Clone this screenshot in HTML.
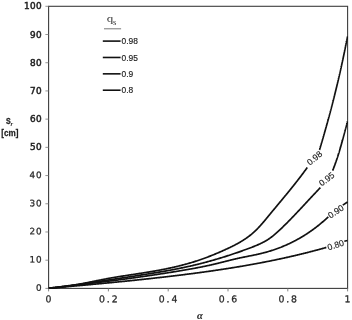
<!DOCTYPE html>
<html><head><meta charset="utf-8"><title>chart</title>
<style>html,body{margin:0;padding:0;background:#fff}svg{display:block}</style></head>
<body>
<svg width="352" height="320" viewBox="0 0 352 320">
<rect width="352" height="320" fill="#fff"/>
<rect x="48.6" y="6.3" width="299.0" height="282.09999999999997" fill="none" stroke="#3c3c3c" stroke-width="1.1"/>
<line x1="45.4" y1="288.40" x2="48.6" y2="288.40" stroke="#777" stroke-width="0.8"/>
<line x1="45.4" y1="260.19" x2="48.6" y2="260.19" stroke="#777" stroke-width="0.8"/>
<line x1="45.4" y1="231.98" x2="48.6" y2="231.98" stroke="#777" stroke-width="0.8"/>
<line x1="45.4" y1="203.77" x2="48.6" y2="203.77" stroke="#777" stroke-width="0.8"/>
<line x1="45.4" y1="175.56" x2="48.6" y2="175.56" stroke="#777" stroke-width="0.8"/>
<line x1="45.4" y1="147.35" x2="48.6" y2="147.35" stroke="#777" stroke-width="0.8"/>
<line x1="45.4" y1="119.14" x2="48.6" y2="119.14" stroke="#777" stroke-width="0.8"/>
<line x1="45.4" y1="90.93" x2="48.6" y2="90.93" stroke="#777" stroke-width="0.8"/>
<line x1="45.4" y1="62.72" x2="48.6" y2="62.72" stroke="#777" stroke-width="0.8"/>
<line x1="45.4" y1="34.51" x2="48.6" y2="34.51" stroke="#777" stroke-width="0.8"/>
<line x1="45.4" y1="6.30" x2="48.6" y2="6.30" stroke="#777" stroke-width="0.8"/>
<line x1="48.60" y1="288.4" x2="48.60" y2="291.4" stroke="#777" stroke-width="0.9"/>
<line x1="108.40" y1="288.4" x2="108.40" y2="291.4" stroke="#777" stroke-width="0.9"/>
<line x1="168.20" y1="288.4" x2="168.20" y2="291.4" stroke="#777" stroke-width="0.9"/>
<line x1="228.00" y1="288.4" x2="228.00" y2="291.4" stroke="#777" stroke-width="0.9"/>
<line x1="287.80" y1="288.4" x2="287.80" y2="291.4" stroke="#777" stroke-width="0.9"/>
<line x1="347.60" y1="288.4" x2="347.60" y2="291.4" stroke="#777" stroke-width="0.9"/>
<text transform="translate(38.9,290.80) rotate(0.2)" x="-0.00" y="0" text-anchor="middle" font-family="'DejaVu Sans',sans-serif" font-size="8.8" fill="#2a2a2a" stroke="#2a2a2a" stroke-width="0.28">0</text>
<text transform="translate(38.9,262.59) rotate(0.2)" x="-6.50 -0.00" y="0" text-anchor="middle" font-family="'DejaVu Sans',sans-serif" font-size="8.8" fill="#2a2a2a" stroke="#2a2a2a" stroke-width="0.28">10</text>
<text transform="translate(38.9,234.38) rotate(0.2)" x="-6.50 -0.00" y="0" text-anchor="middle" font-family="'DejaVu Sans',sans-serif" font-size="8.8" fill="#2a2a2a" stroke="#2a2a2a" stroke-width="0.28">20</text>
<text transform="translate(38.9,206.17) rotate(0.2)" x="-6.50 -0.00" y="0" text-anchor="middle" font-family="'DejaVu Sans',sans-serif" font-size="8.8" fill="#2a2a2a" stroke="#2a2a2a" stroke-width="0.28">30</text>
<text transform="translate(38.9,177.96) rotate(0.2)" x="-6.50 -0.00" y="0" text-anchor="middle" font-family="'DejaVu Sans',sans-serif" font-size="8.8" fill="#2a2a2a" stroke="#2a2a2a" stroke-width="0.28">40</text>
<text x="42.0" y="150.35" letter-spacing="0.35" text-anchor="end" font-family="'DejaVu Sans',sans-serif" font-size="8.9" fill="#222" stroke="#222" stroke-width="0.5">50</text>
<text x="42.0" y="122.14" letter-spacing="0.35" text-anchor="end" font-family="'DejaVu Sans',sans-serif" font-size="8.9" fill="#222" stroke="#222" stroke-width="0.5">60</text>
<text x="42.0" y="93.93" letter-spacing="0.35" text-anchor="end" font-family="'DejaVu Sans',sans-serif" font-size="8.9" fill="#222" stroke="#222" stroke-width="0.5">70</text>
<text x="42.0" y="65.72" letter-spacing="0.35" text-anchor="end" font-family="'DejaVu Sans',sans-serif" font-size="8.9" fill="#222" stroke="#222" stroke-width="0.5">80</text>
<text x="42.0" y="37.51" letter-spacing="0.35" text-anchor="end" font-family="'DejaVu Sans',sans-serif" font-size="8.9" fill="#222" stroke="#222" stroke-width="0.5">90</text>
<text x="42.0" y="9.30" letter-spacing="0.35" text-anchor="end" font-family="'DejaVu Sans',sans-serif" font-size="8.9" fill="#222" stroke="#222" stroke-width="0.5">100</text>
<text transform="translate(48.50,302.3) rotate(0.2)" x="0.00" y="0" text-anchor="middle" font-family="'DejaVu Sans',sans-serif" font-size="9.3" fill="#2a2a2a" stroke="#2a2a2a" stroke-width="0.3">0</text>
<text transform="translate(108.30,302.3) rotate(0.2)" x="-6.30 0.00 6.30" y="0" text-anchor="middle" font-family="'DejaVu Sans',sans-serif" font-size="9.3" fill="#2a2a2a" stroke="#2a2a2a" stroke-width="0.3">0.2</text>
<text transform="translate(168.10,302.3) rotate(0.2)" x="-6.30 0.00 6.30" y="0" text-anchor="middle" font-family="'DejaVu Sans',sans-serif" font-size="9.3" fill="#2a2a2a" stroke="#2a2a2a" stroke-width="0.3">0.4</text>
<text transform="translate(227.90,302.3) rotate(0.2)" x="-6.30 0.00 6.30" y="0" text-anchor="middle" font-family="'DejaVu Sans',sans-serif" font-size="9.3" fill="#2a2a2a" stroke="#2a2a2a" stroke-width="0.3">0.6</text>
<text transform="translate(287.70,302.3) rotate(0.2)" x="-6.30 0.00 6.30" y="0" text-anchor="middle" font-family="'DejaVu Sans',sans-serif" font-size="9.3" fill="#2a2a2a" stroke="#2a2a2a" stroke-width="0.3">0.8</text>
<text transform="translate(347.50,302.3) rotate(0.2)" x="0.00" y="0" text-anchor="middle" font-family="'DejaVu Sans',sans-serif" font-size="9.3" fill="#2a2a2a" stroke="#2a2a2a" stroke-width="0.3">1</text>
<clipPath id="pc"><rect x="48.6" y="6.3" width="299.50" height="282.60"/></clipPath>
<g clip-path="url(#pc)">
<path d="M48.64,288.17 L49.40,288.13 L50.15,288.09 L50.90,288.04 L51.65,287.99 L52.40,287.94 L53.15,287.88 L53.90,287.82 L54.65,287.76 L55.40,287.69 L56.15,287.62 L56.90,287.55 L57.64,287.47 L58.39,287.39 L59.13,287.31 L59.88,287.23 L60.63,287.14 L61.37,287.05 L62.11,286.95 L62.86,286.86 L63.60,286.76 L64.34,286.66 L65.08,286.56 L65.83,286.45 L66.57,286.34 L67.31,286.23 L68.05,286.12 L68.79,286.00 L69.53,285.89 L70.27,285.77 L71.01,285.65 L71.75,285.53 L72.49,285.40 L73.22,285.27 L73.96,285.15 L74.70,285.02 L75.44,284.89 L76.18,284.75 L76.91,284.62 L77.65,284.48 L78.39,284.35 L79.12,284.21 L79.86,284.07 L80.59,283.93 L81.33,283.79 L82.07,283.65 L82.80,283.51 L83.54,283.36 L84.27,283.22 L85.01,283.07 L85.74,282.93 L86.48,282.78 L87.21,282.63 L87.95,282.48 L88.68,282.34 L89.42,282.19 L90.15,282.04 L90.89,281.89 L91.62,281.74 L92.35,281.59 L93.09,281.44 L93.82,281.29 L94.56,281.14 L95.29,281.00 L96.03,280.85 L96.76,280.70 L97.50,280.55 L98.23,280.40 L98.97,280.26 L99.70,280.11 L100.44,279.96 L101.17,279.82 L101.91,279.67 L102.64,279.53 L103.38,279.39 L104.12,279.25 L104.85,279.11 L105.59,278.97 L106.32,278.83 L107.06,278.69 L107.80,278.55 L108.54,278.42 L109.27,278.29 L110.01,278.15 L110.75,278.02 L111.49,277.89 L112.22,277.76 L112.96,277.64 L113.70,277.51 L114.44,277.39 L115.18,277.26 L115.92,277.14 L116.66,277.01 L117.40,276.89 L118.14,276.77 L118.88,276.65 L119.62,276.53 L120.36,276.41 L121.10,276.30 L121.84,276.18 L122.58,276.06 L123.32,275.95 L124.06,275.83 L124.80,275.72 L125.54,275.60 L126.28,275.49 L127.02,275.37 L127.77,275.26 L128.51,275.15 L129.25,275.03 L129.99,274.92 L130.73,274.81 L131.47,274.69 L132.21,274.58 L132.95,274.47 L133.70,274.36 L134.44,274.24 L135.18,274.13 L135.92,274.02 L136.66,273.90 L137.40,273.79 L138.14,273.68 L138.89,273.56 L139.63,273.45 L140.37,273.34 L141.11,273.22 L141.85,273.11 L142.59,272.99 L143.33,272.87 L144.07,272.76 L144.81,272.64 L145.55,272.52 L146.29,272.40 L147.03,272.28 L147.77,272.16 L148.51,272.04 L149.25,271.92 L149.99,271.80 L150.73,271.67 L151.47,271.55 L152.21,271.42 L152.95,271.29 L153.69,271.17 L154.43,271.04 L155.17,270.91 L155.91,270.78 L156.65,270.64 L157.38,270.51 L158.12,270.38 L158.86,270.24 L159.60,270.10 L160.33,269.97 L161.07,269.83 L161.81,269.69 L162.54,269.54 L163.28,269.40 L164.01,269.26 L164.75,269.11 L165.48,268.96 L166.22,268.81 L166.95,268.66 L167.69,268.51 L168.42,268.36 L169.15,268.20 L169.89,268.05 L170.62,267.89 L171.35,267.73 L172.08,267.57 L172.81,267.40 L173.54,267.24 L174.27,267.07 L175.00,266.90 L175.73,266.73 L176.46,266.56 L177.19,266.39 L177.92,266.21 L178.64,266.04 L179.37,265.86 L180.10,265.68 L180.82,265.49 L181.55,265.31 L182.27,265.12 L183.00,264.93 L183.72,264.74 L184.44,264.55 L185.17,264.36 L185.89,264.16 L186.61,263.96 L187.33,263.76 L188.05,263.55 L188.77,263.35 L189.49,263.14 L190.21,262.93 L190.93,262.72 L191.64,262.50 L192.36,262.29 L193.07,262.07 L193.79,261.85 L194.50,261.62 L195.22,261.40 L195.93,261.17 L196.64,260.94 L197.35,260.70 L198.06,260.47 L198.77,260.23 L199.48,259.99 L200.19,259.75 L200.90,259.50 L201.61,259.25 L202.31,259.01 L203.02,258.75 L203.73,258.50 L204.43,258.24 L205.14,257.99 L205.84,257.73 L206.54,257.46 L207.24,257.20 L207.94,256.93 L208.65,256.66 L209.35,256.39 L210.05,256.12 L210.74,255.85 L211.44,255.57 L212.14,255.29 L212.84,255.01 L213.53,254.73 L214.23,254.44 L214.92,254.16 L215.62,253.87 L216.31,253.58 L217.00,253.29 L217.70,252.99 L218.39,252.70 L219.08,252.40 L219.77,252.10 L220.46,251.80 L221.15,251.50 L221.84,251.19 L222.52,250.89 L223.21,250.58 L223.90,250.27 L224.58,249.96 L225.27,249.64 L225.95,249.33 L226.64,249.01 L227.32,248.69 L228.00,248.37 L228.69,248.05 L229.37,247.73 L230.05,247.40 L230.72,247.07 L231.40,246.74 L232.08,246.41 L232.75,246.07 L233.42,245.73 L234.09,245.39 L234.76,245.04 L235.43,244.70 L236.09,244.34 L236.76,243.99 L237.42,243.63 L238.07,243.27 L238.73,242.90 L239.38,242.53 L240.03,242.16 L240.67,241.78 L241.31,241.39 L241.95,241.01 L242.59,240.62 L243.22,240.22 L243.85,239.82 L244.48,239.41 L245.10,239.00 L245.71,238.58 L246.33,238.16 L246.94,237.73 L247.54,237.30 L248.14,236.86 L248.74,236.41 L249.33,235.96 L249.91,235.50 L250.50,235.04 L251.07,234.57 L251.65,234.10 L252.21,233.62 L252.78,233.13 L253.33,232.64 L253.89,232.14 L254.44,231.64 L254.98,231.13 L255.52,230.62 L256.06,230.10 L256.59,229.58 L257.12,229.05 L257.64,228.51 L258.16,227.98 L258.68,227.44 L259.19,226.89 L259.70,226.34 L260.20,225.79 L260.70,225.23 L261.20,224.67 L261.70,224.11 L262.19,223.54 L262.68,222.97 L263.17,222.40 L263.66,221.83 L264.14,221.25 L264.63,220.68 L265.11,220.10 L265.59,219.52 L266.07,218.94 L266.55,218.36 L267.03,217.78 L267.50,217.20 L267.98,216.62 L268.46,216.03 L268.94,215.45 L269.42,214.87 L269.90,214.29 L270.37,213.71 L270.85,213.13 L271.33,212.55 L271.81,211.98 L272.29,211.40 L272.77,210.82 L273.25,210.24 L273.73,209.66 L274.21,209.09 L274.69,208.51 L275.17,207.93 L275.65,207.35 L276.13,206.78 L276.61,206.20 L277.09,205.62 L277.57,205.05 L278.05,204.47 L278.53,203.90 L279.00,203.32 L279.48,202.74 L279.96,202.17 L280.44,201.59 L280.92,201.01 L281.40,200.44 L281.88,199.86 L282.35,199.29 L282.83,198.71 L283.31,198.13 L283.79,197.56 L284.26,196.98 L284.74,196.40 L285.21,195.82 L285.69,195.25 L286.17,194.67 L286.64,194.09 L287.11,193.51 L287.59,192.93 L288.06,192.35 L288.54,191.77 L289.01,191.19 L289.48,190.61 L289.95,190.03 L290.42,189.45 L290.89,188.87 L291.36,188.29 L291.83,187.70 L292.30,187.12 L292.77,186.54 L293.24,185.95 L293.70,185.37 L294.17,184.78 L294.63,184.20 L295.10,183.61 L295.56,183.02 L296.02,182.43 L296.49,181.84 L296.95,181.25 L297.41,180.66 L297.87,180.07 L298.33,179.48 L298.79,178.89 L299.24,178.30 L299.70,177.70 L300.16,177.11 L300.61,176.51 L301.06,175.91 L301.52,175.31 L301.97,174.72 L302.42,174.12 L302.87,173.52 L303.32,172.91 L303.76,172.31 L304.21,171.71 L304.66,171.10 L305.10,170.50 L305.54,169.89 L305.98,169.28 L306.43,168.67 L306.87,168.06 L307.30,167.45" fill="none" stroke="#111" stroke-width="1.7" stroke-linecap="butt" stroke-linejoin="round"/>
<path d="M319.45,150.04 L319.54,149.76 L319.62,149.47 L319.71,149.19 L319.79,148.91 L319.88,148.63 L319.96,148.35 L320.04,148.07 L320.13,147.79 L320.21,147.51 L320.30,147.22 L320.38,146.94 L320.46,146.66 L320.55,146.38 L320.63,146.10 L320.72,145.82 L320.80,145.54 L320.88,145.25 L320.97,144.97 L321.05,144.69 L321.13,144.41 L321.22,144.13 L321.30,143.85 L321.38,143.56 L321.47,143.28 L321.55,143.00 L321.63,142.72 L321.72,142.44 L321.80,142.16 L321.88,141.87 L321.96,141.59 L322.05,141.31 L322.13,141.03 L322.21,140.75 L322.29,140.47 L322.38,140.18 L322.46,139.90 L322.54,139.62 L322.62,139.34 L322.71,139.06 L322.79,138.77 L322.87,138.49 L322.95,138.21 L323.03,137.93 L323.12,137.65 L323.20,137.36 L323.28,137.08 L323.36,136.80 L323.44,136.52 L323.52,136.24 L323.61,135.95 L323.69,135.67 L323.77,135.39 L323.85,135.11 L323.93,134.82 L324.01,134.54 L324.09,134.26 L324.17,133.98 L324.25,133.70 L324.34,133.41 L324.42,133.13 L324.50,132.85 L324.58,132.57 L324.66,132.28 L324.74,132.00 L324.82,131.72 L324.90,131.44 L324.98,131.15 L325.06,130.87 L325.14,130.59 L325.22,130.31 L325.30,130.02 L325.38,129.74 L325.46,129.46 L325.54,129.18 L325.62,128.89 L325.70,128.61 L325.78,128.33 L325.86,128.05 L325.94,127.76 L326.02,127.48 L326.10,127.20 L326.18,126.92 L326.26,126.63 L326.33,126.35 L326.41,126.07 L326.49,125.78 L326.57,125.50 L326.65,125.22 L326.73,124.94 L326.81,124.65 L326.89,124.37 L326.96,124.09 L327.04,123.80 L327.12,123.52 L327.20,123.24 L327.28,122.96 L327.36,122.67 L327.44,122.39 L327.51,122.11 L327.59,121.82 L327.67,121.54 L327.75,121.26 L327.82,120.97 L327.90,120.69 L327.98,120.41 L328.06,120.12 L328.14,119.84 L328.21,119.56 L328.29,119.28 L328.37,118.99 L328.44,118.71 L328.52,118.43 L328.60,118.14 L328.68,117.86 L328.75,117.58 L328.83,117.29 L328.91,117.01 L328.98,116.73 L329.06,116.44 L329.14,116.16 L329.21,115.88 L329.29,115.59 L329.37,115.31 L329.44,115.02 L329.52,114.74 L329.60,114.46 L329.67,114.17 L329.75,113.89 L329.82,113.61 L329.90,113.32 L329.98,113.04 L330.05,112.76 L330.13,112.47 L330.20,112.19 L330.28,111.91 L330.35,111.62 L330.43,111.34 L330.50,111.05 L330.58,110.77 L330.65,110.49 L330.73,110.20 L330.80,109.92 L330.88,109.63 L330.95,109.35 L331.03,109.07 L331.10,108.78 L331.18,108.50 L331.25,108.22 L331.33,107.93 L331.40,107.65 L331.48,107.36 L331.55,107.08 L331.63,106.80 L331.70,106.51 L331.77,106.23 L331.85,105.94 L331.92,105.66 L332.00,105.37 L332.07,105.09 L332.14,104.81 L332.22,104.52 L332.29,104.24 L332.36,103.95 L332.44,103.67 L332.51,103.39 L332.58,103.10 L332.66,102.82 L332.73,102.53 L332.80,102.25 L332.88,101.96 L332.95,101.68 L333.02,101.39 L333.09,101.11 L333.17,100.83 L333.24,100.54 L333.31,100.26 L333.39,99.97 L333.46,99.69 L333.53,99.40 L333.60,99.12 L333.67,98.83 L333.75,98.55 L333.82,98.27 L333.89,97.98 L333.96,97.70 L334.03,97.41 L334.11,97.13 L334.18,96.84 L334.25,96.56 L334.32,96.27 L334.39,95.99 L334.46,95.70 L334.53,95.42 L334.61,95.13 L334.68,94.85 L334.75,94.56 L334.82,94.28 L334.89,93.99 L334.96,93.71 L335.03,93.42 L335.10,93.14 L335.17,92.85 L335.24,92.57 L335.31,92.28 L335.38,92.00 L335.45,91.71 L335.52,91.43 L335.59,91.14 L335.66,90.86 L335.73,90.57 L335.80,90.29 L335.87,90.00 L335.94,89.72 L336.01,89.43 L336.08,89.15 L336.15,88.86 L336.22,88.58 L336.29,88.29 L336.36,88.01 L336.43,87.72 L336.50,87.44 L336.57,87.15 L336.64,86.87 L336.70,86.58 L336.77,86.29 L336.84,86.01 L336.91,85.72 L336.98,85.44 L337.05,85.15 L337.12,84.87 L337.18,84.58 L337.25,84.30 L337.32,84.01 L337.39,83.73 L337.46,83.44 L337.52,83.15 L337.59,82.87 L337.66,82.58 L337.73,82.30 L337.80,82.01 L337.86,81.73 L337.93,81.44 L338.00,81.15 L338.07,80.87 L338.13,80.58 L338.20,80.30 L338.27,80.01 L338.33,79.73 L338.40,79.44 L338.47,79.15 L338.53,78.87 L338.60,78.58 L338.67,78.30 L338.73,78.01 L338.80,77.72 L338.87,77.44 L338.93,77.15 L339.00,76.87 L339.06,76.58 L339.13,76.29 L339.20,76.01 L339.26,75.72 L339.33,75.44 L339.39,75.15 L339.46,74.86 L339.52,74.58 L339.59,74.29 L339.66,74.00 L339.72,73.72 L339.79,73.43 L339.85,73.15 L339.92,72.86 L339.98,72.57 L340.05,72.29 L340.11,72.00 L340.18,71.71 L340.24,71.43 L340.30,71.14 L340.37,70.86 L340.43,70.57 L340.50,70.28 L340.56,70.00 L340.63,69.71 L340.69,69.42 L340.75,69.14 L340.82,68.85 L340.88,68.56 L340.94,68.28 L341.01,67.99 L341.07,67.70 L341.14,67.42 L341.20,67.13 L341.26,66.84 L341.33,66.56 L341.39,66.27 L341.45,65.98 L341.51,65.70 L341.58,65.41 L341.64,65.12 L341.70,64.84 L341.77,64.55 L341.83,64.26 L341.89,63.98 L341.95,63.69 L342.01,63.40 L342.08,63.11 L342.14,62.83 L342.20,62.54 L342.26,62.25 L342.32,61.97 L342.39,61.68 L342.45,61.39 L342.51,61.11 L342.57,60.82 L342.63,60.53 L342.69,60.24 L342.76,59.96 L342.82,59.67 L342.88,59.38 L342.94,59.10 L343.00,58.81 L343.06,58.52 L343.12,58.23 L343.18,57.95 L343.24,57.66 L343.30,57.37 L343.36,57.08 L343.42,56.80 L343.48,56.51 L343.54,56.22 L343.60,55.93 L343.66,55.65 L343.72,55.36 L343.78,55.07 L343.84,54.78 L343.90,54.50 L343.96,54.21 L344.02,53.92 L344.08,53.63 L344.14,53.35 L344.20,53.06 L344.26,52.77 L344.32,52.48 L344.38,52.20 L344.44,51.91 L344.49,51.62 L344.55,51.33 L344.61,51.05 L344.67,50.76 L344.73,50.47 L344.79,50.18 L344.85,49.89 L344.90,49.61 L344.96,49.32 L345.02,49.03 L345.08,48.74 L345.14,48.45 L345.19,48.17 L345.25,47.88 L345.31,47.59 L345.37,47.30 L345.42,47.02 L345.48,46.73 L345.54,46.44 L345.59,46.15 L345.65,45.86 L345.71,45.57 L345.77,45.29 L345.82,45.00 L345.88,44.71 L345.94,44.42 L345.99,44.13 L346.05,43.85 L346.10,43.56 L346.16,43.27 L346.22,42.98 L346.27,42.69 L346.33,42.40 L346.38,42.12 L346.44,41.83 L346.50,41.54 L346.55,41.25 L346.61,40.96 L346.66,40.67 L346.72,40.39 L346.77,40.10 L346.83,39.81 L346.88,39.52 L346.94,39.23 L346.99,38.94 L347.05,38.65 L347.10,38.37 L347.16,38.08 L347.21,37.79 L347.27,37.50 L347.32,37.21 L347.37,36.92 L347.43,36.63 L347.48,36.34" fill="none" stroke="#111" stroke-width="1.7" stroke-linecap="butt" stroke-linejoin="round"/>
<path d="M48.65,288.20 L49.40,288.11 L50.14,288.03 L50.89,287.94 L51.63,287.85 L52.38,287.76 L53.13,287.67 L53.87,287.58 L54.62,287.49 L55.36,287.40 L56.11,287.31 L56.85,287.22 L57.60,287.12 L58.34,287.03 L59.09,286.94 L59.83,286.84 L60.58,286.75 L61.32,286.65 L62.07,286.56 L62.81,286.46 L63.56,286.37 L64.30,286.27 L65.05,286.18 L65.79,286.08 L66.54,285.98 L67.28,285.88 L68.03,285.79 L68.77,285.69 L69.52,285.59 L70.26,285.49 L71.01,285.39 L71.75,285.29 L72.49,285.19 L73.24,285.09 L73.98,284.99 L74.73,284.89 L75.47,284.79 L76.21,284.69 L76.96,284.58 L77.70,284.48 L78.45,284.38 L79.19,284.28 L79.93,284.17 L80.68,284.07 L81.42,283.97 L82.16,283.86 L82.91,283.76 L83.65,283.65 L84.39,283.55 L85.14,283.44 L85.88,283.34 L86.62,283.23 L87.37,283.12 L88.11,283.02 L88.85,282.91 L89.60,282.80 L90.34,282.70 L91.08,282.59 L91.83,282.48 L92.57,282.37 L93.31,282.27 L94.06,282.16 L94.80,282.05 L95.54,281.94 L96.29,281.83 L97.03,281.72 L97.77,281.61 L98.51,281.50 L99.26,281.39 L100.00,281.28 L100.74,281.17 L101.49,281.06 L102.23,280.95 L102.97,280.84 L103.71,280.73 L104.46,280.62 L105.20,280.51 L105.94,280.40 L106.68,280.29 L107.43,280.18 L108.17,280.07 L108.91,279.95 L109.66,279.84 L110.40,279.73 L111.14,279.62 L111.88,279.51 L112.63,279.39 L113.37,279.28 L114.11,279.17 L114.85,279.06 L115.60,278.94 L116.34,278.83 L117.08,278.72 L117.82,278.60 L118.57,278.49 L119.31,278.38 L120.05,278.27 L120.79,278.15 L121.54,278.04 L122.28,277.93 L123.02,277.81 L123.76,277.70 L124.51,277.59 L125.25,277.47 L125.99,277.36 L126.73,277.24 L127.48,277.13 L128.22,277.02 L128.96,276.90 L129.70,276.79 L130.45,276.68 L131.19,276.56 L131.93,276.45 L132.68,276.34 L133.42,276.22 L134.16,276.11 L134.90,275.99 L135.65,275.88 L136.39,275.77 L137.13,275.65 L137.87,275.54 L138.62,275.42 L139.36,275.31 L140.10,275.19 L140.84,275.08 L141.59,274.96 L142.33,274.85 L143.07,274.73 L143.81,274.61 L144.55,274.50 L145.30,274.38 L146.04,274.26 L146.78,274.15 L147.52,274.03 L148.26,273.91 L149.01,273.79 L149.75,273.67 L150.49,273.55 L151.23,273.43 L151.97,273.31 L152.71,273.19 L153.45,273.07 L154.20,272.95 L154.94,272.83 L155.68,272.70 L156.42,272.58 L157.16,272.46 L157.90,272.33 L158.64,272.21 L159.38,272.08 L160.12,271.95 L160.86,271.83 L161.60,271.70 L162.34,271.57 L163.08,271.44 L163.82,271.31 L164.56,271.18 L165.30,271.05 L166.04,270.92 L166.78,270.79 L167.51,270.65 L168.25,270.52 L168.99,270.39 L169.73,270.25 L170.47,270.11 L171.20,269.98 L171.94,269.84 L172.68,269.70 L173.42,269.56 L174.15,269.42 L174.89,269.27 L175.63,269.13 L176.36,268.99 L177.10,268.84 L177.84,268.70 L178.57,268.55 L179.31,268.40 L180.04,268.25 L180.78,268.10 L181.51,267.95 L182.25,267.80 L182.98,267.65 L183.71,267.49 L184.45,267.34 L185.18,267.18 L185.92,267.02 L186.65,266.86 L187.38,266.70 L188.11,266.54 L188.85,266.38 L189.58,266.22 L190.31,266.05 L191.04,265.88 L191.77,265.72 L192.50,265.55 L193.23,265.38 L193.96,265.20 L194.69,265.03 L195.42,264.86 L196.15,264.68 L196.88,264.50 L197.61,264.33 L198.34,264.15 L199.07,263.97 L199.80,263.78 L200.52,263.60 L201.25,263.41 L201.98,263.23 L202.70,263.04 L203.43,262.85 L204.16,262.66 L204.88,262.47 L205.61,262.28 L206.33,262.08 L207.06,261.89 L207.78,261.69 L208.51,261.49 L209.23,261.29 L209.95,261.09 L210.68,260.89 L211.40,260.69 L212.12,260.48 L212.84,260.28 L213.57,260.07 L214.29,259.86 L215.01,259.65 L215.73,259.44 L216.45,259.23 L217.17,259.02 L217.89,258.80 L218.61,258.59 L219.33,258.37 L220.05,258.15 L220.77,257.94 L221.49,257.72 L222.21,257.49 L222.92,257.27 L223.64,257.05 L224.36,256.82 L225.08,256.60 L225.79,256.37 L226.51,256.14 L227.23,255.91 L227.94,255.68 L228.66,255.45 L229.37,255.22 L230.09,254.98 L230.80,254.75 L231.51,254.51 L232.23,254.27 L232.94,254.03 L233.65,253.79 L234.37,253.55 L235.08,253.31 L235.79,253.07 L236.50,252.82 L237.21,252.58 L237.93,252.33 L238.64,252.08 L239.35,251.83 L240.06,251.58 L240.77,251.33 L241.48,251.08 L242.18,250.83 L242.89,250.57 L243.60,250.32 L244.31,250.06 L245.02,249.80 L245.72,249.54 L246.43,249.29 L247.14,249.02 L247.84,248.76 L248.55,248.50 L249.26,248.24 L249.96,247.97 L250.67,247.71 L251.37,247.44 L252.07,247.17 L252.77,246.89 L253.48,246.62 L254.17,246.34 L254.87,246.06 L255.57,245.78 L256.26,245.49 L256.95,245.20 L257.64,244.90 L258.33,244.60 L259.01,244.30 L259.69,243.99 L260.37,243.67 L261.04,243.35 L261.71,243.02 L262.38,242.69 L263.04,242.35 L263.70,242.00 L264.36,241.65 L265.01,241.29 L265.66,240.92 L266.30,240.54 L266.93,240.16 L267.57,239.77 L268.19,239.37 L268.81,238.96 L269.43,238.54 L270.04,238.11 L270.64,237.68 L271.24,237.23 L271.84,236.78 L272.43,236.32 L273.02,235.86 L273.60,235.39 L274.18,234.91 L274.75,234.43 L275.33,233.94 L275.89,233.45 L276.46,232.95 L277.02,232.45 L277.58,231.94 L278.14,231.43 L278.69,230.92 L279.24,230.41 L279.80,229.89 L280.34,229.37 L280.89,228.85 L281.44,228.33 L281.98,227.81 L282.52,227.28 L283.06,226.76 L283.60,226.23 L284.14,225.70 L284.68,225.18 L285.21,224.65 L285.75,224.12 L286.28,223.58 L286.81,223.05 L287.35,222.52 L287.88,221.98 L288.40,221.45 L288.93,220.91 L289.46,220.38 L289.99,219.84 L290.51,219.30 L291.04,218.76 L291.56,218.22 L292.08,217.68 L292.60,217.14 L293.12,216.60 L293.64,216.06 L294.16,215.51 L294.68,214.97 L295.20,214.43 L295.72,213.88 L296.23,213.34 L296.75,212.79 L297.27,212.24 L297.78,211.70 L298.30,211.15 L298.81,210.60 L299.32,210.06 L299.84,209.51 L300.35,208.96 L300.86,208.41 L301.38,207.86 L301.89,207.31 L302.40,206.76 L302.91,206.22 L303.42,205.67 L303.93,205.12 L304.44,204.57 L304.95,204.02 L305.47,203.47 L305.98,202.92 L306.49,202.37 L307.00,201.82 L307.51,201.27 L308.02,200.72 L308.53,200.17 L309.04,199.62 L309.55,199.07 L310.06,198.52 L310.58,197.98 L311.09,197.43 L311.60,196.88 L312.11,196.33 L312.63,195.78 L313.14,195.24 L313.65,194.69 L314.17,194.14 L314.68,193.60 L315.20,193.05 L315.71,192.51 L316.23,191.96 L316.74,191.42 L317.26,190.88 L317.78,190.34 L318.30,189.79 L318.82,189.25 L319.34,188.71 L319.86,188.17 L320.38,187.63" fill="none" stroke="#111" stroke-width="1.7" stroke-linecap="butt" stroke-linejoin="round"/>
<path d="M332.62,170.66 L332.67,170.54 L332.72,170.42 L332.77,170.30 L332.81,170.18 L332.86,170.06 L332.91,169.94 L332.96,169.82 L333.01,169.70 L333.05,169.58 L333.10,169.46 L333.15,169.34 L333.20,169.22 L333.24,169.10 L333.29,168.98 L333.34,168.86 L333.39,168.74 L333.43,168.62 L333.48,168.50 L333.53,168.38 L333.57,168.26 L333.62,168.14 L333.67,168.02 L333.71,167.90 L333.76,167.78 L333.81,167.66 L333.85,167.54 L333.90,167.42 L333.94,167.30 L333.99,167.18 L334.04,167.06 L334.08,166.94 L334.13,166.82 L334.17,166.70 L334.22,166.57 L334.27,166.45 L334.31,166.33 L334.36,166.21 L334.40,166.09 L334.45,165.97 L334.49,165.85 L334.54,165.73 L334.58,165.61 L334.63,165.49 L334.67,165.37 L334.72,165.25 L334.76,165.13 L334.80,165.00 L334.85,164.88 L334.89,164.76 L334.94,164.64 L334.98,164.52 L335.03,164.40 L335.07,164.28 L335.11,164.16 L335.16,164.04 L335.20,163.91 L335.25,163.79 L335.29,163.67 L335.33,163.55 L335.38,163.43 L335.42,163.31 L335.46,163.19 L335.51,163.07 L335.55,162.94 L335.59,162.82 L335.64,162.70 L335.68,162.58 L335.72,162.46 L335.76,162.34 L335.81,162.21 L335.85,162.09 L335.89,161.97 L335.93,161.85 L335.98,161.73 L336.02,161.61 L336.06,161.48 L336.10,161.36 L336.15,161.24 L336.19,161.12 L336.23,161.00 L336.27,160.88 L336.31,160.75 L336.36,160.63 L336.40,160.51 L336.44,160.39 L336.48,160.27 L336.52,160.14 L336.56,160.02 L336.60,159.90 L336.65,159.78 L336.69,159.66 L336.73,159.53 L336.77,159.41 L336.81,159.29 L336.85,159.17 L336.89,159.04 L336.93,158.92 L336.97,158.80 L337.01,158.68 L337.06,158.56 L337.10,158.43 L337.14,158.31 L337.18,158.19 L337.22,158.07 L337.26,157.94 L337.30,157.82 L337.34,157.70 L337.38,157.58 L337.42,157.45 L337.46,157.33 L337.50,157.21 L337.54,157.09 L337.58,156.96 L337.62,156.84 L337.66,156.72 L337.70,156.60 L337.74,156.47 L337.78,156.35 L337.82,156.23 L337.85,156.11 L337.89,155.98 L337.93,155.86 L337.97,155.74 L338.01,155.61 L338.05,155.49 L338.09,155.37 L338.13,155.25 L338.17,155.12 L338.21,155.00 L338.24,154.88 L338.28,154.75 L338.32,154.63 L338.36,154.51 L338.40,154.39 L338.44,154.26 L338.48,154.14 L338.51,154.02 L338.55,153.89 L338.59,153.77 L338.63,153.65 L338.67,153.52 L338.71,153.40 L338.74,153.28 L338.78,153.15 L338.82,153.03 L338.86,152.91 L338.90,152.78 L338.93,152.66 L338.97,152.54 L339.01,152.41 L339.05,152.29 L339.08,152.17 L339.12,152.04 L339.16,151.92 L339.20,151.80 L339.23,151.67 L339.27,151.55 L339.31,151.43 L339.35,151.30 L339.38,151.18 L339.42,151.06 L339.46,150.93 L339.49,150.81 L339.53,150.69 L339.57,150.56 L339.61,150.44 L339.64,150.32 L339.68,150.19 L339.72,150.07 L339.75,149.95 L339.79,149.82 L339.83,149.70 L339.86,149.57 L339.90,149.45 L339.94,149.33 L339.97,149.20 L340.01,149.08 L340.04,148.96 L340.08,148.83 L340.12,148.71 L340.15,148.58 L340.19,148.46 L340.23,148.34 L340.26,148.21 L340.30,148.09 L340.33,147.97 L340.37,147.84 L340.41,147.72 L340.44,147.59 L340.48,147.47 L340.51,147.35 L340.55,147.22 L340.58,147.10 L340.62,146.97 L340.66,146.85 L340.69,146.73 L340.73,146.60 L340.76,146.48 L340.80,146.35 L340.83,146.23 L340.87,146.11 L340.90,145.98 L340.94,145.86 L340.98,145.73 L341.01,145.61 L341.05,145.49 L341.08,145.36 L341.12,145.24 L341.15,145.11 L341.19,144.99 L341.22,144.87 L341.26,144.74 L341.29,144.62 L341.33,144.49 L341.36,144.37 L341.40,144.24 L341.43,144.12 L341.47,144.00 L341.50,143.87 L341.54,143.75 L341.57,143.62 L341.61,143.50 L341.64,143.37 L341.67,143.25 L341.71,143.13 L341.74,143.00 L341.78,142.88 L341.81,142.75 L341.85,142.63 L341.88,142.50 L341.92,142.38 L341.95,142.26 L341.98,142.13 L342.02,142.01 L342.05,141.88 L342.09,141.76 L342.12,141.63 L342.16,141.51 L342.19,141.39 L342.22,141.26 L342.26,141.14 L342.29,141.01 L342.33,140.89 L342.36,140.76 L342.40,140.64 L342.43,140.51 L342.46,140.39 L342.50,140.27 L342.53,140.14 L342.57,140.02 L342.60,139.89 L342.63,139.77 L342.67,139.64 L342.70,139.52 L342.73,139.39 L342.77,139.27 L342.80,139.14 L342.84,139.02 L342.87,138.90 L342.90,138.77 L342.94,138.65 L342.97,138.52 L343.00,138.40 L343.04,138.27 L343.07,138.15 L343.10,138.02 L343.14,137.90 L343.17,137.77 L343.21,137.65 L343.24,137.53 L343.27,137.40 L343.31,137.28 L343.34,137.15 L343.37,137.03 L343.41,136.90 L343.44,136.78 L343.47,136.65 L343.51,136.53 L343.54,136.40 L343.57,136.28 L343.61,136.15 L343.64,136.03 L343.67,135.91 L343.71,135.78 L343.74,135.66 L343.77,135.53 L343.81,135.41 L343.84,135.28 L343.87,135.16 L343.91,135.03 L343.94,134.91 L343.97,134.78 L344.01,134.66 L344.04,134.53 L344.07,134.41 L344.10,134.28 L344.14,134.16 L344.17,134.04 L344.20,133.91 L344.24,133.79 L344.27,133.66 L344.30,133.54 L344.34,133.41 L344.37,133.29 L344.40,133.16 L344.44,133.04 L344.47,132.91 L344.50,132.79 L344.53,132.66 L344.57,132.54 L344.60,132.41 L344.63,132.29 L344.67,132.17 L344.70,132.04 L344.73,131.92 L344.77,131.79 L344.80,131.67 L344.83,131.54 L344.86,131.42 L344.90,131.29 L344.93,131.17 L344.96,131.04 L345.00,130.92 L345.03,130.79 L345.06,130.67 L345.09,130.54 L345.13,130.42 L345.16,130.30 L345.19,130.17 L345.23,130.05 L345.26,129.92 L345.29,129.80 L345.33,129.67 L345.36,129.55 L345.39,129.42 L345.42,129.30 L345.46,129.17 L345.49,129.05 L345.52,128.92 L345.56,128.80 L345.59,128.67 L345.62,128.55 L345.65,128.43 L345.69,128.30 L345.72,128.18 L345.75,128.05 L345.79,127.93 L345.82,127.80 L345.85,127.68 L345.89,127.55 L345.92,127.43 L345.95,127.30 L345.98,127.18 L346.02,127.05 L346.05,126.93 L346.08,126.81 L346.12,126.68 L346.15,126.56 L346.18,126.43 L346.21,126.31 L346.25,126.18 L346.28,126.06 L346.31,125.93 L346.35,125.81 L346.38,125.68 L346.41,125.56 L346.45,125.44 L346.48,125.31 L346.51,125.19 L346.55,125.06 L346.58,124.94 L346.61,124.81 L346.64,124.69 L346.68,124.56 L346.71,124.44 L346.74,124.31 L346.78,124.19 L346.81,124.07 L346.84,123.94 L346.88,123.82 L346.91,123.69 L346.94,123.57 L346.98,123.44 L347.01,123.32 L347.04,123.19 L347.08,123.07 L347.11,122.95 L347.14,122.82 L347.18,122.70 L347.21,122.57 L347.24,122.45 L347.28,122.32 L347.31,122.20 L347.34,122.08 L347.38,121.95 L347.41,121.83 L347.44,121.70 L347.48,121.58 L347.51,121.45" fill="none" stroke="#111" stroke-width="1.7" stroke-linecap="butt" stroke-linejoin="round"/>
<path d="M48.65,288.18 L49.38,288.11 L50.11,288.03 L50.84,287.95 L51.57,287.87 L52.30,287.79 L53.03,287.71 L53.76,287.63 L54.49,287.55 L55.22,287.47 L55.95,287.39 L56.68,287.31 L57.41,287.23 L58.14,287.15 L58.87,287.07 L59.60,286.99 L60.33,286.91 L61.06,286.83 L61.79,286.75 L62.52,286.66 L63.25,286.58 L63.98,286.50 L64.71,286.42 L65.44,286.34 L66.17,286.26 L66.90,286.17 L67.63,286.09 L68.35,286.01 L69.08,285.93 L69.81,285.84 L70.54,285.76 L71.27,285.68 L72.00,285.59 L72.73,285.51 L73.46,285.43 L74.19,285.34 L74.92,285.26 L75.65,285.17 L76.38,285.09 L77.11,285.01 L77.84,284.92 L78.57,284.84 L79.30,284.75 L80.02,284.67 L80.75,284.58 L81.48,284.50 L82.21,284.41 L82.94,284.32 L83.67,284.24 L84.40,284.15 L85.13,284.07 L85.86,283.98 L86.59,283.89 L87.31,283.80 L88.04,283.72 L88.77,283.63 L89.50,283.54 L90.23,283.46 L90.96,283.37 L91.69,283.28 L92.42,283.19 L93.14,283.10 L93.87,283.01 L94.60,282.92 L95.33,282.84 L96.06,282.75 L96.79,282.66 L97.52,282.57 L98.24,282.48 L98.97,282.39 L99.70,282.30 L100.43,282.21 L101.16,282.12 L101.89,282.02 L102.62,281.93 L103.34,281.84 L104.07,281.75 L104.80,281.66 L105.53,281.57 L106.26,281.47 L106.98,281.38 L107.71,281.29 L108.44,281.20 L109.17,281.10 L109.90,281.01 L110.62,280.92 L111.35,280.82 L112.08,280.73 L112.81,280.64 L113.54,280.54 L114.26,280.45 L114.99,280.35 L115.72,280.26 L116.45,280.16 L117.17,280.07 L117.90,279.97 L118.63,279.87 L119.36,279.78 L120.09,279.68 L120.81,279.58 L121.54,279.49 L122.27,279.39 L123.00,279.29 L123.72,279.20 L124.45,279.10 L125.18,279.00 L125.90,278.90 L126.63,278.80 L127.36,278.70 L128.09,278.61 L128.81,278.51 L129.54,278.41 L130.27,278.31 L131.00,278.21 L131.72,278.11 L132.45,278.01 L133.18,277.91 L133.90,277.80 L134.63,277.70 L135.36,277.60 L136.08,277.50 L136.81,277.40 L137.54,277.29 L138.26,277.19 L138.99,277.09 L139.72,276.99 L140.45,276.88 L141.17,276.78 L141.90,276.68 L142.63,276.57 L143.35,276.47 L144.08,276.36 L144.80,276.26 L145.53,276.15 L146.26,276.05 L146.98,275.94 L147.71,275.83 L148.44,275.73 L149.16,275.62 L149.89,275.51 L150.62,275.41 L151.34,275.30 L152.07,275.19 L152.79,275.08 L153.52,274.98 L154.25,274.87 L154.97,274.76 L155.70,274.65 L156.42,274.54 L157.15,274.43 L157.88,274.32 L158.60,274.21 L159.33,274.10 L160.05,273.99 L160.78,273.88 L161.51,273.77 L162.23,273.65 L162.96,273.54 L163.68,273.43 L164.41,273.32 L165.13,273.20 L165.86,273.09 L166.59,272.98 L167.31,272.86 L168.04,272.75 L168.76,272.64 L169.49,272.52 L170.21,272.41 L170.94,272.29 L171.66,272.18 L172.39,272.06 L173.11,271.94 L173.84,271.83 L174.56,271.71 L175.29,271.59 L176.01,271.47 L176.74,271.36 L177.46,271.24 L178.19,271.12 L178.91,271.00 L179.64,270.88 L180.36,270.76 L181.09,270.64 L181.81,270.52 L182.54,270.40 L183.26,270.27 L183.98,270.15 L184.71,270.03 L185.43,269.90 L186.16,269.78 L186.88,269.65 L187.60,269.52 L188.33,269.40 L189.05,269.27 L189.77,269.14 L190.50,269.01 L191.22,268.88 L191.94,268.75 L192.66,268.62 L193.38,268.48 L194.11,268.35 L194.83,268.22 L195.55,268.08 L196.27,267.94 L196.99,267.81 L197.71,267.67 L198.43,267.53 L199.15,267.39 L199.87,267.25 L200.59,267.10 L201.31,266.96 L202.03,266.82 L202.75,266.67 L203.47,266.52 L204.19,266.37 L204.91,266.22 L205.63,266.07 L206.34,265.92 L207.06,265.77 L207.78,265.61 L208.50,265.46 L209.21,265.30 L209.93,265.14 L210.64,264.98 L211.36,264.82 L212.08,264.66 L212.79,264.50 L213.51,264.33 L214.22,264.16 L214.93,263.99 L215.65,263.82 L216.36,263.65 L217.07,263.48 L217.79,263.31 L218.50,263.13 L219.21,262.96 L219.92,262.78 L220.63,262.60 L221.35,262.42 L222.06,262.25 L222.77,262.07 L223.48,261.89 L224.19,261.71 L224.90,261.53 L225.61,261.35 L226.32,261.17 L227.04,260.99 L227.75,260.81 L228.46,260.64 L229.17,260.46 L229.88,260.28 L230.59,260.10 L231.30,259.93 L232.02,259.76 L232.73,259.58 L233.44,259.41 L234.16,259.24 L234.87,259.07 L235.58,258.91 L236.30,258.74 L237.01,258.58 L237.73,258.41 L238.44,258.26 L239.16,258.10 L239.87,257.94 L240.59,257.79 L241.31,257.64 L242.03,257.49 L242.74,257.34 L243.46,257.19 L244.18,257.05 L244.90,256.90 L245.62,256.76 L246.34,256.61 L247.06,256.47 L247.77,256.33 L248.49,256.19 L249.21,256.04 L249.93,255.90 L250.65,255.75 L251.37,255.61 L252.09,255.46 L252.81,255.32 L253.52,255.17 L254.24,255.02 L254.96,254.87 L255.68,254.72 L256.39,254.56 L257.11,254.40 L257.82,254.24 L258.54,254.08 L259.25,253.92 L259.97,253.75 L260.68,253.58 L261.39,253.41 L262.10,253.23 L262.81,253.05 L263.52,252.87 L264.23,252.69 L264.94,252.50 L265.65,252.31 L266.36,252.11 L267.06,251.92 L267.77,251.71 L268.47,251.51 L269.18,251.30 L269.88,251.09 L270.58,250.87 L271.28,250.65 L271.98,250.43 L272.68,250.20 L273.38,249.97 L274.08,249.74 L274.77,249.50 L275.47,249.26 L276.16,249.02 L276.85,248.77 L277.54,248.52 L278.23,248.26 L278.92,248.00 L279.61,247.74 L280.29,247.47 L280.98,247.21 L281.66,246.93 L282.34,246.66 L283.02,246.38 L283.70,246.09 L284.38,245.81 L285.05,245.52 L285.73,245.22 L286.40,244.93 L287.07,244.63 L287.74,244.32 L288.41,244.02 L289.08,243.71 L289.74,243.39 L290.40,243.07 L291.07,242.75 L291.73,242.43 L292.38,242.10 L293.04,241.77 L293.69,241.44 L294.35,241.10 L295.00,240.76 L295.65,240.42 L296.29,240.07 L296.94,239.72 L297.58,239.37 L298.22,239.01 L298.86,238.65 L299.50,238.29 L300.14,237.92 L300.77,237.55 L301.40,237.18 L302.03,236.81 L302.66,236.43 L303.29,236.05 L303.91,235.66 L304.53,235.27 L305.15,234.88 L305.77,234.49 L306.39,234.09 L307.00,233.69 L307.62,233.29 L308.23,232.88 L308.84,232.47 L309.44,232.06 L310.05,231.64 L310.65,231.22 L311.25,230.80 L311.85,230.38 L312.45,229.95 L313.04,229.52 L313.63,229.09 L314.22,228.65 L314.81,228.21 L315.40,227.77 L315.98,227.33 L316.56,226.88 L317.14,226.43 L317.72,225.98 L318.30,225.52 L318.87,225.06 L319.44,224.60 L320.01,224.13 L320.58,223.67 L321.15,223.20 L321.71,222.72 L322.27,222.25 L322.83,221.77 L323.38,221.29 L323.94,220.81 L324.49,220.32 L325.04,219.83 L325.59,219.34 L326.13,218.84 L326.68,218.35 L327.22,217.85 L327.76,217.35 L328.29,216.84" fill="none" stroke="#111" stroke-width="1.7" stroke-linecap="butt" stroke-linejoin="round"/>
<path d="M342.80,205.15 L347.50,202.05" fill="none" stroke="#111" stroke-width="1.7" stroke-linecap="butt" stroke-linejoin="round"/>
<path d="M48.67,288.32 L49.37,288.26 L50.07,288.20 L50.78,288.13 L51.48,288.07 L52.18,288.01 L52.88,287.95 L53.58,287.89 L54.28,287.83 L54.98,287.76 L55.68,287.70 L56.38,287.64 L57.08,287.58 L57.78,287.52 L58.49,287.45 L59.19,287.39 L59.89,287.33 L60.59,287.27 L61.29,287.20 L61.99,287.14 L62.69,287.08 L63.39,287.02 L64.09,286.95 L64.80,286.89 L65.50,286.83 L66.20,286.77 L66.90,286.70 L67.60,286.64 L68.30,286.58 L69.00,286.52 L69.70,286.45 L70.40,286.39 L71.11,286.33 L71.81,286.26 L72.51,286.20 L73.21,286.14 L73.91,286.07 L74.61,286.01 L75.31,285.95 L76.01,285.88 L76.72,285.82 L77.42,285.76 L78.12,285.69 L78.82,285.63 L79.52,285.56 L80.22,285.50 L80.92,285.44 L81.62,285.37 L82.33,285.31 L83.03,285.24 L83.73,285.18 L84.43,285.11 L85.13,285.05 L85.83,284.99 L86.53,284.92 L87.23,284.86 L87.94,284.79 L88.64,284.73 L89.34,284.66 L90.04,284.60 L90.74,284.53 L91.44,284.47 L92.14,284.40 L92.84,284.33 L93.55,284.27 L94.25,284.20 L94.95,284.14 L95.65,284.07 L96.35,284.01 L97.05,283.94 L97.75,283.87 L98.45,283.81 L99.16,283.74 L99.86,283.67 L100.56,283.61 L101.26,283.54 L101.96,283.48 L102.66,283.41 L103.36,283.34 L104.07,283.27 L104.77,283.21 L105.47,283.14 L106.17,283.07 L106.87,283.01 L107.57,282.94 L108.27,282.87 L108.97,282.80 L109.68,282.73 L110.38,282.67 L111.08,282.60 L111.78,282.53 L112.48,282.46 L113.18,282.39 L113.88,282.32 L114.58,282.26 L115.28,282.19 L115.99,282.12 L116.69,282.05 L117.39,281.98 L118.09,281.91 L118.79,281.84 L119.49,281.77 L120.19,281.70 L120.89,281.63 L121.60,281.56 L122.30,281.49 L123.00,281.42 L123.70,281.35 L124.40,281.28 L125.10,281.21 L125.80,281.14 L126.50,281.07 L127.20,281.00 L127.90,280.92 L128.61,280.85 L129.31,280.78 L130.01,280.71 L130.71,280.64 L131.41,280.57 L132.11,280.49 L132.81,280.42 L133.51,280.35 L134.21,280.28 L134.91,280.20 L135.62,280.13 L136.32,280.06 L137.02,279.98 L137.72,279.91 L138.42,279.84 L139.12,279.76 L139.82,279.69 L140.52,279.62 L141.22,279.54 L141.92,279.47 L142.62,279.39 L143.32,279.32 L144.02,279.24 L144.73,279.17 L145.43,279.09 L146.13,279.02 L146.83,278.94 L147.53,278.86 L148.23,278.79 L148.93,278.71 L149.63,278.64 L150.33,278.56 L151.03,278.48 L151.73,278.40 L152.43,278.33 L153.13,278.25 L153.83,278.17 L154.53,278.09 L155.23,278.02 L155.93,277.94 L156.63,277.86 L157.33,277.78 L158.03,277.70 L158.73,277.62 L159.43,277.54 L160.13,277.46 L160.83,277.38 L161.53,277.31 L162.23,277.22 L162.93,277.14 L163.63,277.06 L164.33,276.98 L165.03,276.90 L165.73,276.82 L166.43,276.74 L167.13,276.66 L167.83,276.58 L168.53,276.49 L169.23,276.41 L169.93,276.33 L170.63,276.25 L171.33,276.16 L172.03,276.08 L172.73,276.00 L173.43,275.91 L174.13,275.83 L174.83,275.75 L175.53,275.66 L176.23,275.58 L176.93,275.49 L177.63,275.41 L178.33,275.32 L179.03,275.24 L179.73,275.15 L180.43,275.07 L181.13,274.98 L181.83,274.89 L182.53,274.81 L183.22,274.72 L183.92,274.63 L184.62,274.54 L185.32,274.46 L186.02,274.37 L186.72,274.28 L187.42,274.19 L188.12,274.10 L188.82,274.01 L189.52,273.92 L190.21,273.83 L190.91,273.74 L191.61,273.65 L192.31,273.56 L193.01,273.47 L193.71,273.38 L194.41,273.29 L195.10,273.20 L195.80,273.10 L196.50,273.01 L197.20,272.92 L197.90,272.82 L198.60,272.73 L199.29,272.64 L199.99,272.54 L200.69,272.45 L201.39,272.35 L202.09,272.26 L202.78,272.16 L203.48,272.07 L204.18,271.97 L204.88,271.87 L205.58,271.78 L206.27,271.68 L206.97,271.58 L207.67,271.49 L208.37,271.39 L209.06,271.29 L209.76,271.19 L210.46,271.09 L211.16,270.99 L211.85,270.89 L212.55,270.79 L213.25,270.69 L213.94,270.59 L214.64,270.49 L215.34,270.39 L216.03,270.28 L216.73,270.18 L217.43,270.08 L218.12,269.97 L218.82,269.87 L219.52,269.77 L220.21,269.66 L220.91,269.56 L221.61,269.45 L222.30,269.35 L223.00,269.24 L223.70,269.13 L224.39,269.03 L225.09,268.92 L225.78,268.81 L226.48,268.70 L227.17,268.60 L227.87,268.49 L228.57,268.38 L229.26,268.27 L229.96,268.16 L230.65,268.05 L231.35,267.94 L232.04,267.82 L232.74,267.71 L233.43,267.60 L234.13,267.49 L234.82,267.37 L235.52,267.26 L236.21,267.15 L236.91,267.03 L237.60,266.92 L238.30,266.80 L238.99,266.68 L239.69,266.57 L240.38,266.45 L241.07,266.33 L241.77,266.22 L242.46,266.10 L243.16,265.98 L243.85,265.86 L244.54,265.74 L245.24,265.62 L245.93,265.50 L246.62,265.38 L247.32,265.26 L248.01,265.13 L248.70,265.01 L249.40,264.89 L250.09,264.77 L250.78,264.64 L251.48,264.52 L252.17,264.39 L252.86,264.27 L253.56,264.14 L254.25,264.01 L254.94,263.89 L255.63,263.76 L256.32,263.63 L257.02,263.50 L257.71,263.37 L258.40,263.24 L259.09,263.11 L259.78,262.98 L260.48,262.85 L261.17,262.72 L261.86,262.59 L262.55,262.46 L263.24,262.32 L263.93,262.19 L264.62,262.05 L265.32,261.92 L266.01,261.78 L266.70,261.65 L267.39,261.51 L268.08,261.37 L268.77,261.24 L269.46,261.10 L270.15,260.96 L270.84,260.82 L271.53,260.68 L272.22,260.54 L272.91,260.40 L273.60,260.26 L274.29,260.11 L274.98,259.97 L275.67,259.83 L276.36,259.68 L277.04,259.54 L277.73,259.39 L278.42,259.25 L279.11,259.10 L279.80,258.95 L280.49,258.81 L281.18,258.66 L281.87,258.51 L282.55,258.36 L283.24,258.21 L283.93,258.06 L284.62,257.91 L285.30,257.76 L285.99,257.60 L286.68,257.45 L287.37,257.30 L288.05,257.14 L288.74,256.99 L289.43,256.83 L290.12,256.68 L290.80,256.52 L291.49,256.36 L292.17,256.20 L292.86,256.05 L293.55,255.89 L294.23,255.73 L294.92,255.57 L295.61,255.40 L296.29,255.24 L296.98,255.08 L297.66,254.92 L298.35,254.75 L299.03,254.59 L299.72,254.42 L300.40,254.26 L301.09,254.09 L301.77,253.92 L302.46,253.76 L303.14,253.59 L303.82,253.42 L304.51,253.25 L305.19,253.08 L305.88,252.91 L306.56,252.73 L307.24,252.56 L307.93,252.39 L308.61,252.21 L309.29,252.04 L309.98,251.86 L310.66,251.69 L311.34,251.51 L312.02,251.33 L312.71,251.16 L313.39,250.98 L314.07,250.80 L314.75,250.62 L315.43,250.44 L316.11,250.25 L316.80,250.07 L317.48,249.89 L318.16,249.70 L318.84,249.52 L319.52,249.33 L320.20,249.15 L320.88,248.96 L321.56,248.77 L322.24,248.59 L322.92,248.40 L323.60,248.21 L324.28,248.02 L324.96,247.82 L325.64,247.63 L326.32,247.44" fill="none" stroke="#111" stroke-width="1.7" stroke-linecap="butt" stroke-linejoin="round"/>
<path d="M344.30,241.25 L347.50,240.45" fill="none" stroke="#111" stroke-width="1.7" stroke-linecap="butt" stroke-linejoin="round"/>
</g>
<text transform="translate(314.4,158) rotate(-40)" x="0" y="3.1" text-anchor="middle" font-family="'Liberation Sans',sans-serif" font-size="8.7" fill="#1a1a1a" stroke="#1a1a1a" stroke-width="0.15">0.98</text>
<text transform="translate(326.6,179) rotate(-37)" x="0" y="3.1" text-anchor="middle" font-family="'Liberation Sans',sans-serif" font-size="8.7" fill="#1a1a1a" stroke="#1a1a1a" stroke-width="0.15">0.95</text>
<text transform="translate(335.7,211.5) rotate(-34)" x="0" y="3.1" text-anchor="middle" font-family="'Liberation Sans',sans-serif" font-size="8.7" fill="#1a1a1a" stroke="#1a1a1a" stroke-width="0.15">0.90</text>
<text transform="translate(335.7,244.9) rotate(-18)" x="0" y="3.1" text-anchor="middle" font-family="'Liberation Sans',sans-serif" font-size="8.7" fill="#1a1a1a" stroke="#1a1a1a" stroke-width="0.15">0.80</text>
<text transform="translate(106.7,22.3) scale(1.25,1)" font-family="'Liberation Serif',serif" font-size="10.4" fill="#333">q</text>
<text transform="translate(113.0,25.3) scale(1.15,1)" font-family="'Liberation Serif',serif" font-size="7.6" fill="#333">s</text>
<line x1="104" y1="28.8" x2="121.1" y2="28.8" stroke="#777" stroke-width="1"/>
<line x1="102.8" y1="41.10" x2="120.6" y2="41.10" stroke="#111" stroke-width="1.6"/>
<text x="121.6" y="44.20" font-family="'Liberation Sans',sans-serif" font-size="8.4" fill="#1a1a1a" stroke="#1a1a1a" stroke-width="0.15">0.98</text>
<line x1="102.8" y1="57.47" x2="120.6" y2="57.47" stroke="#111" stroke-width="1.6"/>
<text x="121.6" y="60.57" font-family="'Liberation Sans',sans-serif" font-size="8.4" fill="#1a1a1a" stroke="#1a1a1a" stroke-width="0.15">0.95</text>
<line x1="102.8" y1="73.84" x2="120.6" y2="73.84" stroke="#111" stroke-width="1.6"/>
<text x="121.6" y="76.94" font-family="'Liberation Sans',sans-serif" font-size="8.4" fill="#1a1a1a" stroke="#1a1a1a" stroke-width="0.15">0.9</text>
<line x1="102.8" y1="90.21" x2="120.6" y2="90.21" stroke="#111" stroke-width="1.6"/>
<text x="121.6" y="93.31" font-family="'Liberation Sans',sans-serif" font-size="8.4" fill="#1a1a1a" stroke="#1a1a1a" stroke-width="0.15">0.8</text>
<text transform="translate(6.0,124) scale(0.8,1)" font-family="'Liberation Sans',sans-serif" font-size="8.8" font-weight="bold" fill="#222" stroke="#222" stroke-width="0.3">S</text>
<text x="10.6" y="126.3" font-family="'Liberation Sans',sans-serif" font-size="6.2" font-weight="bold" font-style="italic" fill="#222">r</text>
<text transform="translate(1.35,136.4) scale(0.86,1)" font-family="'Liberation Sans',sans-serif" font-size="9.5" font-weight="bold" fill="#222" stroke="#222" stroke-width="0.25">[cm]</text>
<text x="200" y="319.2" text-anchor="middle" font-family="'Liberation Serif',serif" font-size="10.5" font-weight="bold" font-style="italic" fill="#222">α</text>
</svg>
</body></html>
